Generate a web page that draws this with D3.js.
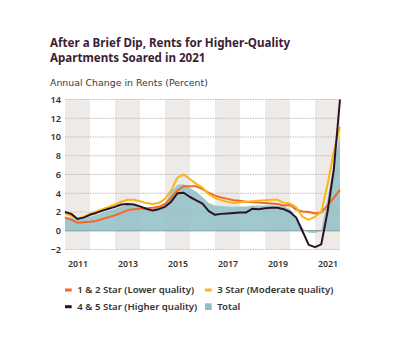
<!DOCTYPE html>
<html>
<head>
<meta charset="utf-8">
<script src="https://cdn.jsdelivr.net/npm/d3@7"></script>
<style>
  body { margin: 0; background: #fff; }
</style>
</head>
<body>
<div id="grafica"></div>
<script>
// quarters, 2011Q1 .. 2022Q1
quarters = ['2011Q1','2011Q2','2011Q3','2011Q4','2012Q1','2012Q2','2012Q3','2012Q4',
            '2013Q1','2013Q2','2013Q3','2013Q4','2014Q1','2014Q2','2014Q3','2014Q4',
            '2015Q1','2015Q2','2015Q3','2015Q4','2016Q1','2016Q2','2016Q3','2016Q4',
            '2017Q1','2017Q2','2017Q3','2017Q4','2018Q1','2018Q2','2018Q3','2018Q4',
            '2019Q1','2019Q2','2019Q3','2019Q4','2020Q1','2020Q2','2020Q3','2020Q4',
            '2021Q1','2021Q2','2021Q3','2021Q4','2022Q1']

star12 = [1.4, 1.2, 0.85, 0.9, 0.95, 1.05, 1.25, 1.45,
          1.65, 1.9, 2.2, 2.3, 2.35, 2.4, 2.45, 2.55,
          2.85, 3.5, 4.3, 4.75, 4.75, 4.75, 4.45, 4.05,
          3.75, 3.55, 3.4, 3.25, 3.2, 3.1, 3.05, 3.0,
          2.95, 2.9, 2.85, 2.7, 2.75, 2.25, 2.05, 2.0,
          1.85, 1.95, 2.7, 3.5, 4.35]

star3 = [1.85, 1.6, 1.3, 1.5, 1.8, 2.05, 2.3, 2.55,
         2.8, 3.1, 3.3, 3.3, 3.15, 2.95, 2.85, 2.95,
         3.4, 4.3, 5.7, 6.0, 5.5, 5.0, 4.6, 3.9,
         3.5, 3.25, 3.1, 2.95, 3.05, 3.1, 3.15, 3.2,
         3.25, 3.3, 3.3, 3.0, 2.9, 2.5, 1.5, 1.15,
         1.5, 2.0, 4.9, 8.4, 11.1]

star45 = [2.0, 1.8, 1.25, 1.4, 1.7, 1.9, 2.15, 2.35,
          2.55, 2.8, 2.85, 2.8, 2.6, 2.35, 2.15, 2.3,
          2.55, 3.1, 4.0, 4.05, 3.6, 3.25, 2.9, 2.1,
          1.7, 1.8, 1.85, 1.9, 1.95, 1.95, 2.35, 2.3,
          2.4, 2.45, 2.45, 2.3, 2.0, 1.4, -0.05, -1.5,
          -1.75, -1.45, 2.0, 6.5, 14.0]

total = [1.5, 1.4, 1.15, 1.25, 1.5, 1.7, 1.95, 2.15,
         2.35, 2.6, 2.75, 2.7, 2.55, 2.4, 2.35, 2.5,
         2.9, 4.2, 4.9, 4.95, 4.6, 4.15, 3.6, 2.95,
         2.7, 2.65, 2.6, 2.55, 2.6, 2.6, 2.7, 2.7,
         2.7, 2.7, 2.65, 2.6, 2.3, 1.5, 0.3, -0.2,
         -0.25, 0.0, 3.5, 7.0, 10.3]

yTicks = [-2, 0, 2, 4, 6, 8, 10, 12, 14]
shadedYears = [2011, 2013, 2015, 2017, 2019, 2021]
xLabels = ['2011', '2013', '2015', '2017', '2019', '2021']

series = [
  { name: '1 & 2 Star (Lower quality)',   values: star12, color: '#f26a24' },
  { name: '3 Star (Moderate quality)',    values: star3,  color: '#fbb51a' },
  { name: '4 & 5 Star (Higher quality)',  values: star45, color: '#2b1326' }
]

ancho_total = 400
alto_total  = 343
margin = { left: 65, right: 60, top: 99.5, bottom: 93.5 }

ancho = ancho_total - margin.left - margin.right
alto  = alto_total - margin.top - margin.bottom

svg = d3.select('#grafica')
        .append('svg')
        .attr('width', ancho_total)
        .attr('height', alto_total)
        .attr('font-family', "'Noto Sans', sans-serif")

// titulo
svg.append('text')
   .attr('x', 50).attr('y', 47)
   .attr('font-size', '11.6px').attr('font-weight', 700)
   .attr('fill', '#3b1e36')
   .text('After a Brief Dip, Rents for Higher-Quality')
svg.append('text')
   .attr('x', 50).attr('y', 61.5)
   .attr('font-size', '11.6px').attr('font-weight', 700)
   .attr('fill', '#3b1e36')
   .text('Apartments Soared in 2021')
svg.append('text')
   .attr('x', 50).attr('y', 86)
   .attr('font-family', "'DejaVu Sans', sans-serif")
   .attr('font-size', '9.4px')
   .attr('fill', '#3a3a3a')
   .text('Annual Change in Rents (Percent)')

g = svg.append('g')
       .attr('transform', `translate(${margin.left}, ${margin.top})`)

parseQ = (q) => +q.slice(0, 4) + (+q.slice(5) - 1) / 4

x = d3.scaleLinear().domain([2011, 2022]).range([0, ancho])
y = d3.scaleLinear().domain([-2, 14]).range([alto, 0])

// bandas de años impares
g.selectAll('rect.band')
  .data(shadedYears)
  .enter()
  .append('rect')
    .attr('class', 'band')
    .attr('x', (d) => x(d))
    .attr('width', (d) => x(d + 1) - x(d))
    .attr('y', 0)
    .attr('height', alto)
    .attr('fill', '#eeeae7')

// rejilla
g.selectAll('line.grid')
  .data(yTicks)
  .enter()
  .append('line')
    .attr('x1', 0).attr('x2', ancho)
    .attr('y1', (d) => y(d)).attr('y2', (d) => y(d))
    .attr('stroke', (d) => d == 0 ? '#7a7a7a' : '#bdbdbd')
    .attr('stroke-width', (d) => d == 0 ? 1.2 : 1)
    .attr('stroke-dasharray', (d) => d == 0 ? null : '1.5,1')

// area del total
area = d3.area()
  .x((d, i) => x(parseQ(quarters[i])))
  .y0(y(0))
  .y1((d) => y(d))

g.append('path')
  .datum(total)
  .attr('d', area)
  .attr('fill', '#8fc0c6')
  .attr('fill-opacity', 0.85)

line = d3.line()
  .x((d, i) => x(parseQ(quarters[i])))
  .y((d) => y(d))

g.selectAll('path.serie')
  .data(series)
  .enter()
  .append('path')
    .attr('class', 'serie')
    .attr('d', (d) => line(d.values))
    .attr('fill', 'none')
    .attr('stroke', (d) => d.color)
    .attr('stroke-width', 2)
    .attr('stroke-linejoin', 'round')

// ejes
yAxisCall = d3.axisLeft(y).tickValues(yTicks).tickSize(0).tickPadding(4)
yGroup = g.append('g').call(yAxisCall)
yGroup.select('.domain').remove()
yGroup.attr('font-family', null)
yGroup.selectAll('text')
  .attr('font-size', '9.2px').attr('font-weight', 600)
  .attr('fill', '#333')

xAxisCall = d3.axisBottom(x)
  .tickValues(shadedYears.map((d) => d + 0.5))
  .tickFormat((d, i) => xLabels[i])
  .tickSize(0).tickPadding(11)
xGroup = g.append('g').attr('transform', `translate(0, ${alto})`).call(xAxisCall)
xGroup.select('.domain').remove()
xGroup.attr('font-family', null)
xGroup.selectAll('text')
  .attr('font-size', '8.8px').attr('font-weight', 600)
  .attr('fill', '#333')

// leyenda
legend = [
  { name: series[0].name, color: series[0].color, type: 'line', col: 0, row: 0 },
  { name: series[1].name, color: series[1].color, type: 'line', col: 1, row: 0 },
  { name: series[2].name, color: series[2].color, type: 'line', col: 0, row: 1 },
  { name: 'Total',        color: '#8fc0c6',       type: 'box',  col: 1, row: 1 }
]

items = svg.selectAll('g.legend')
  .data(legend)
  .enter()
  .append('g')
    .attr('transform', (d) => `translate(${65 + d.col * 140}, ${290 + d.row * 16.7})`)

items.append('rect')
  .attr('x', 0)
  .attr('y', (d) => d.type == 'box' ? -3.4 : -1.5)
  .attr('width', 6.7)
  .attr('height', (d) => d.type == 'box' ? 6.7 : 3)
  .attr('fill', (d) => d.color)

items.append('text')
  .attr('x', 12.3).attr('y', 3.3)
  .attr('font-size', '9.6px').attr('font-weight', 600)
  .attr('fill', '#333')
  .text((d) => d.name)
</script>
</body>
</html>
